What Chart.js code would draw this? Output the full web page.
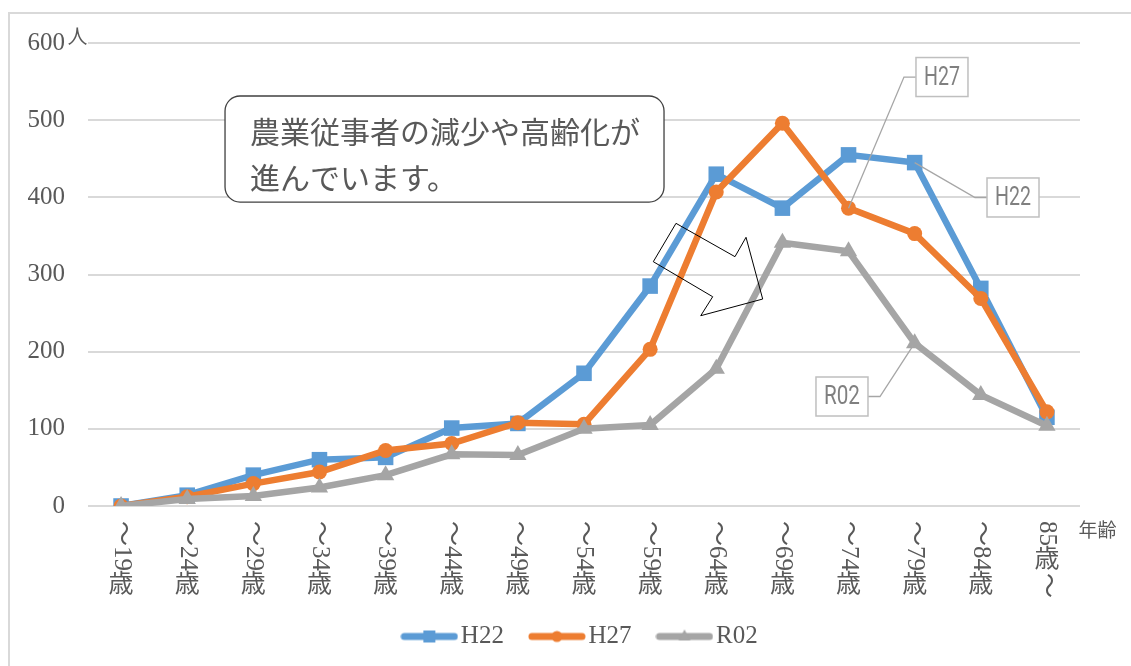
<!DOCTYPE html>
<html lang="ja">
<head>
<meta charset="utf-8">
<title>農業従事者数の推移（年齢別）</title>
<script src="https://cdn.jsdelivr.net/npm/chart.js@4.4.1/dist/chart.umd.min.js"></script>
<style>
  html, body { margin: 0; padding: 0; background: #fff; }
  #chart { display: block; }
</style>
</head>
<body>
<canvas id="chart" width="1131" height="666"></canvas>
<script>
'use strict';

// ── data ─────────────────────────────────────────
const AGE_LABELS = ['～19歳','～24歳','～29歳','～34歳','～39歳','～44歳','～49歳','～54歳',
                    '～59歳','～64歳','～69歳','～74歳','～79歳','～84歳','85歳～'];
const H22 = [0, 14, 40, 60, 63, 101, 107, 172, 285, 430, 386, 455, 445, 282, 115];
const H27 = [0, 12, 29, 44, 72,  81, 108, 106, 203, 407, 496, 386, 353, 269, 122];
const R02 = [0,  9, 13, 24, 40,  67,  66, 100, 105, 178, 341, 330, 211, 144, 104];
const SERIES_NAMES = ['H22', 'H27', 'R02'];
const Y_MIN = 0, Y_MAX = 600, Y_STEP = 100;
const Y_UNIT = '人';
const X_UNIT = '年齢';
const NOTE_LINES = ['農業従事者の減少や高齢化が', '進んでいます。'];

// ── styles ───────────────────────────────────────
const BLUE = '#5B9BD5', ORANGE = '#ED7D31', GRAY = '#A5A5A5';
const TEXT = '#595959';
const SERIF = '"Liberation Serif", "Noto Sans CJK JP", serif';
const GOTHIC = '"Noto Sans CJK JP", sans-serif';
const FONT_SIZE = 25;

// annotation anchors in data units (category index, value)
const NOTE_BOX = { i0: 1.572, i1: 8.21, v0: 531.3, v1: 393.9, radius: 15 };
const NOTE_TEXT = { i: 1.95, v: [485.3, 425.7] };
const ARROW = [[8.391,366.3],[8.048,316.6],[8.946,271.2],[8.765,246.6],
               [9.702,268.2],[9.450,348.2],[9.283,323.1]];
// callouts: which series/point the leader goes to, box centre, side of the leader
const CALLOUTS = [
  { ds: 1, pt: 11, i: 12.413, v: 555.9, side: 'left'  },
  { ds: 0, pt: 12, i: 13.487, v: 399.8, side: 'left'  },
  { ds: 2, pt: 12, i: 10.901, v: 141.9, side: 'right' },
];

// ── legend icon (line + marker) ──────────────────
function legendIcon(color, style) {
  const c = document.createElement('canvas');
  c.width = 58; c.height = 16;
  const g = c.getContext('2d');
  g.strokeStyle = color; g.fillStyle = color;
  g.lineWidth = 7; g.lineCap = 'round';
  g.beginPath(); g.moveTo(4, 8); g.lineTo(54, 8); g.stroke();
  g.beginPath();
  if (style === 'rect') g.rect(23, 2, 12, 12);
  else if (style === 'circle') g.arc(29, 8, 5.5, 0, Math.PI * 2);
  else { g.moveTo(29, 1); g.lineTo(35, 12); g.lineTo(23, 12); g.closePath(); }
  g.fill();
  return c;
}

// ── vertical tick label: ideographs upright, other runs turned 90° ──
function drawVerticalLabel(ctx, text, cx, top, size) {
  let y = top;
  const runs = text.match(/[\u4e00-\u9fff]+|[^\u4e00-\u9fff]+/g) || [];
  runs.forEach((run, k) => {
    if (/[\u4e00-\u9fff]/.test(run)) {
      for (const ch of run) {
        ctx.textAlign = 'center'; ctx.textBaseline = 'middle';
        ctx.fillText(ch, cx, y + size / 2);
        y += size;
      }
    } else {
      const w = ctx.measureText(run).width;
      ctx.save();
      ctx.translate(cx, y);
      ctx.rotate(Math.PI / 2);
      ctx.textAlign = 'left'; ctx.textBaseline = 'middle';
      ctx.fillText(run, 0, 0);
      ctx.restore();
      y += w + 2;
    }
  });
}

function roundRect(ctx, x, y, w, h, r) {
  ctx.beginPath();
  ctx.moveTo(x + r, y);
  ctx.arcTo(x + w, y, x + w, y + h, r);
  ctx.arcTo(x + w, y + h, x, y + h, r);
  ctx.arcTo(x, y + h, x, y, r);
  ctx.arcTo(x, y, x + w, y, r);
  ctx.closePath();
}

// ── frame, axis labels and notes ─────────────────
const decorations = {
  id: 'decorations',
  beforeDraw(chart) {
    const ctx = chart.ctx;
    ctx.save();
    ctx.fillStyle = '#fff';
    ctx.fillRect(0, 0, chart.width, chart.height);
    ctx.strokeStyle = '#d9d9d9'; ctx.lineWidth = 2;
    ctx.beginPath();
    ctx.moveTo(9, chart.height); ctx.lineTo(9, 13); ctx.lineTo(chart.width, 13);
    ctx.stroke();
    ctx.restore();
  },
  afterDraw(chart) {
    const { ctx, chartArea: area, scales: { x, y } } = chart;
    const P = (i, v) => [x.getPixelForValue(i), y.getPixelForValue(v)];
    ctx.save();

    // category labels written vertically
    ctx.fillStyle = TEXT;
    ctx.font = `${FONT_SIZE}px ${SERIF}`;
    chart.data.labels.forEach((lab, i) => {
      drawVerticalLabel(ctx, lab, x.getPixelForTick(i), area.bottom + 15, FONT_SIZE);
    });

    // units
    ctx.font = `20px ${GOTHIC}`;
    ctx.textAlign = 'center'; ctx.textBaseline = 'middle';
    ctx.fillText(Y_UNIT, area.left - 10.5, area.top - 7);
    ctx.font = `19px ${GOTHIC}`;
    ctx.fillText(X_UNIT, area.right + 17.5, area.bottom + 24);

    // note box
    const [bx0, by0] = P(NOTE_BOX.i0, NOTE_BOX.v0);
    const [bx1, by1] = P(NOTE_BOX.i1, NOTE_BOX.v1);
    roundRect(ctx, bx0, by0, bx1 - bx0, by1 - by0, NOTE_BOX.radius);
    ctx.fillStyle = '#fff'; ctx.fill();
    ctx.strokeStyle = '#404040'; ctx.lineWidth = 1.3; ctx.stroke();
    ctx.fillStyle = TEXT;
    ctx.font = `30px ${GOTHIC}`;
    ctx.textAlign = 'left'; ctx.textBaseline = 'middle';
    NOTE_LINES.forEach((line, k) => {
      const [tx, ty] = P(NOTE_TEXT.i, NOTE_TEXT.v[k]);
      ctx.fillText(line, tx, ty);
    });

    // outlined arrow
    ctx.beginPath();
    ARROW.forEach(([i, v], k) => {
      const [px, py] = P(i, v);
      k ? ctx.lineTo(px, py) : ctx.moveTo(px, py);
    });
    ctx.closePath();
    ctx.strokeStyle = '#000'; ctx.lineWidth = 1; ctx.stroke();

    // series callouts
    CALLOUTS.forEach(c => {
      const pt = chart.getDatasetMeta(c.ds).data[c.pt];
      const [cx, cy] = P(c.i, c.v);
      const w = 52, h = 39;
      const ex = c.side === 'left' ? cx - w / 2 : cx + w / 2;
      const elbow = c.side === 'left' ? ex - 12 : ex + 12;
      ctx.beginPath();
      ctx.moveTo(ex, cy); ctx.lineTo(elbow, cy); ctx.lineTo(pt.x, pt.y);
      ctx.strokeStyle = '#a6a6a6'; ctx.lineWidth = 1.3; ctx.stroke();
      ctx.fillStyle = '#fff';
      ctx.fillRect(cx - w / 2, cy - h / 2, w, h);
      ctx.strokeStyle = '#bfbfbf'; ctx.lineWidth = 1.5;
      ctx.strokeRect(cx - w / 2, cy - h / 2, w, h);
      ctx.font = '26px Roboto, "Liberation Sans", sans-serif';
      const name = SERIES_NAMES[c.ds];
      const tw = ctx.measureText(name).width;
      ctx.save();
      ctx.translate(cx, cy + 1);
      ctx.scale(36 / tw, 1);
      ctx.fillStyle = '#808080';
      ctx.textAlign = 'center'; ctx.textBaseline = 'middle';
      ctx.fillText(name, 0, 0);
      ctx.restore();
    });

    ctx.restore();
  }
};

// ── chart ────────────────────────────────────────
const SERIES = [
  { data: H22, color: BLUE,   style: 'rect',     radius: 11,  order: 2 },
  { data: H27, color: ORANGE, style: 'circle',   radius: 7.5, order: 1 },
  { data: R02, color: GRAY,   style: 'triangle', radius: 10,  order: 0 },
];

new Chart(document.getElementById('chart'), {
  type: 'line',
  data: {
    labels: AGE_LABELS,
    datasets: SERIES.map((s, k) => ({
      label: SERIES_NAMES[k],
      data: s.data,
      borderColor: s.color,
      backgroundColor: s.color,
      borderWidth: 6.5,
      pointStyle: s.style,
      pointRadius: s.radius,
      pointBorderWidth: 0,
      pointBackgroundColor: s.color,
      tension: 0,
      fill: false,
      order: s.order,
    })),
  },
  options: {
    responsive: false,
    animation: false,
    devicePixelRatio: 1,
    layout: { padding: { left: 10, right: 51, top: 43, bottom: 7 } },
    scales: {
      x: {
        offset: true,
        grid: { display: false },
        border: { display: false },
        ticks: { display: false },
        afterFit: s => { s.height = 84; },
      },
      y: {
        min: Y_MIN, max: Y_MAX,
        ticks: { stepSize: Y_STEP, padding: 23, color: TEXT, font: { family: SERIF, size: FONT_SIZE } },
        grid: { color: '#d9d9d9', lineWidth: 2, drawTicks: false },
        border: { display: false },
        afterFit: s => { s.width = 78; },
      },
    },
    plugins: {
      tooltip: { enabled: false },
      legend: {
        position: 'bottom',
        fullSize: false,
        labels: {
          usePointStyle: true,
          pointStyleWidth: 38,
          padding: 34,
          color: TEXT,
          font: { family: SERIF, size: FONT_SIZE },
          generateLabels: chart => chart.data.datasets.map((ds, i) => ({
            text: ds.label,
            fillStyle: ds.borderColor,
            strokeStyle: ds.borderColor,
            lineWidth: 0,
            pointStyle: legendIcon(ds.borderColor, ds.pointStyle),
            fontColor: TEXT,
            hidden: false,
            datasetIndex: i,
          })),
        },
      },
    },
  },
  plugins: [decorations],
});
</script>
</body>
</html>
